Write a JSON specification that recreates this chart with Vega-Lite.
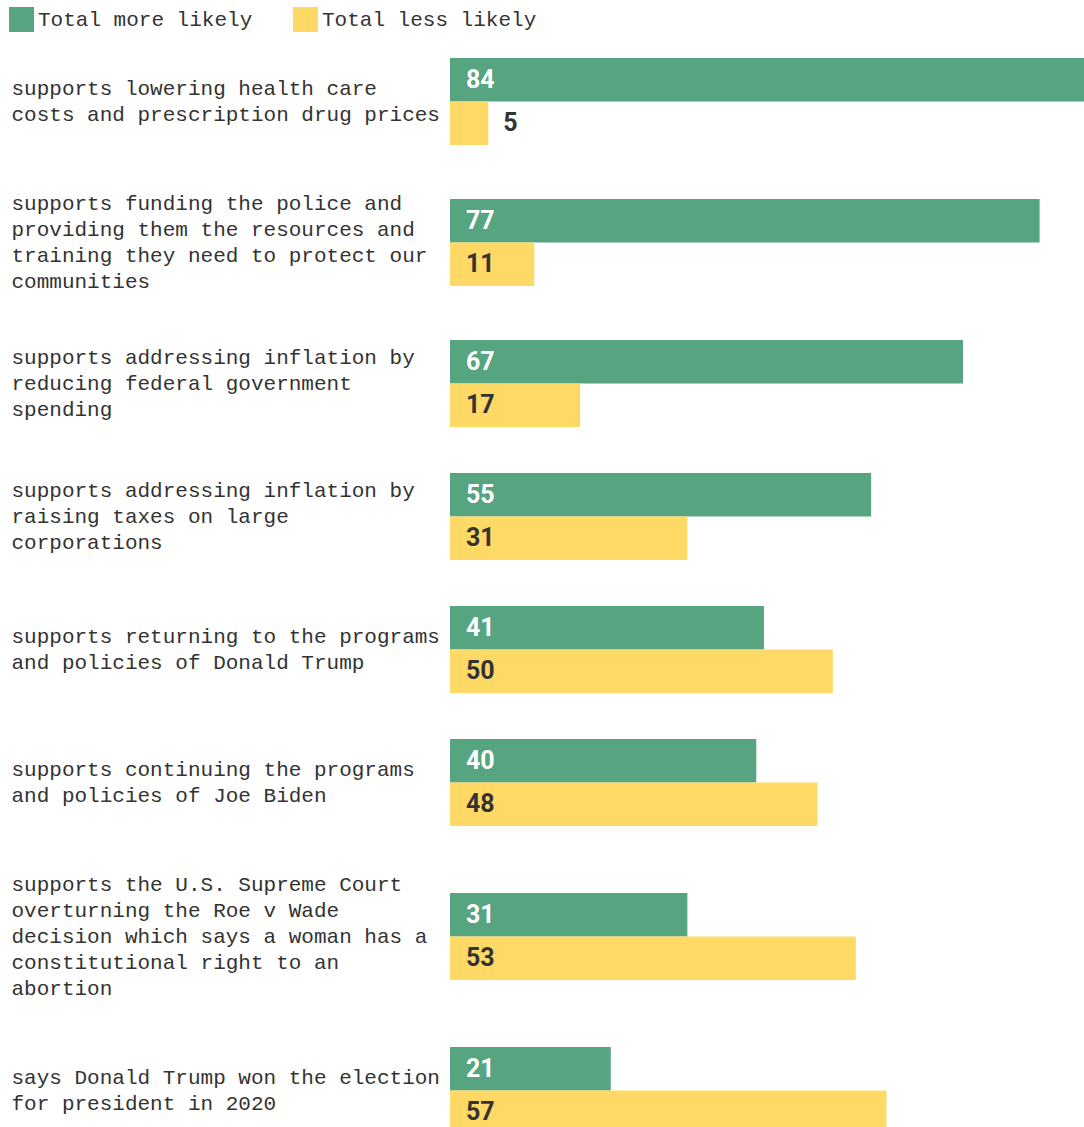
{
  "$schema": "https://vega.github.io/schema/vega-lite/v6.json",
  "padding": {"left": 9, "top": 7, "right": 0, "bottom": 0},
  "background": "white",
  "spacing": 0,
  "data": {"values": [
    {"q": 1, "question": "supports lowering health care|costs and prescription drug prices", "series": "Total more likely", "value": 84},
    {"q": 1, "question": "supports lowering health care|costs and prescription drug prices", "series": "Total less likely", "value": 5},
    {"q": 2, "question": "supports funding the police and|providing them the resources and|training they need to protect our|communities", "series": "Total more likely", "value": 77},
    {"q": 2, "question": "supports funding the police and|providing them the resources and|training they need to protect our|communities", "series": "Total less likely", "value": 11},
    {"q": 3, "question": "supports addressing inflation by|reducing federal government|spending", "series": "Total more likely", "value": 67},
    {"q": 3, "question": "supports addressing inflation by|reducing federal government|spending", "series": "Total less likely", "value": 17},
    {"q": 4, "question": "supports addressing inflation by|raising taxes on large|corporations", "series": "Total more likely", "value": 55},
    {"q": 4, "question": "supports addressing inflation by|raising taxes on large|corporations", "series": "Total less likely", "value": 31},
    {"q": 5, "question": "supports returning to the programs|and policies of Donald Trump", "series": "Total more likely", "value": 41},
    {"q": 5, "question": "supports returning to the programs|and policies of Donald Trump", "series": "Total less likely", "value": 50},
    {"q": 6, "question": "supports continuing the programs|and policies of Joe Biden", "series": "Total more likely", "value": 40},
    {"q": 6, "question": "supports continuing the programs|and policies of Joe Biden", "series": "Total less likely", "value": 48},
    {"q": 7, "question": "supports the U.S. Supreme Court|overturning the Roe v Wade|decision which says a woman has a|constitutional right to an|abortion", "series": "Total more likely", "value": 31},
    {"q": 7, "question": "supports the U.S. Supreme Court|overturning the Roe v Wade|decision which says a woman has a|constitutional right to an|abortion", "series": "Total less likely", "value": 53},
    {"q": 8, "question": "says Donald Trump won the election|for president in 2020", "series": "Total more likely", "value": 21},
    {"q": 8, "question": "says Donald Trump won the election|for president in 2020", "series": "Total less likely", "value": 57}
  ]},
  "vconcat": [
    {"height": 133, "width": 634, "transform": [{"filter": "datum.q == 1"}],
     "encoding": {
       "y": {"field": "question", "type": "nominal", "scale": {"paddingInner": 0, "paddingOuter": 0.2644}, "axis": {"title": null, "labelOffset": -13, "labelExpr": "split(datum.label, '|')"}},
       "yOffset": {"field": "series", "type": "nominal", "sort": ["Total more likely", "Total less likely"], "scale": {"paddingInner": 0, "paddingOuter": 0}}
     },
     "layer": [
       {"mark": {"type": "bar"}, "encoding": {"x": {"field": "value", "type": "quantitative", "scale": {"domain": [0, 82.8], "clamp": true, "nice": false}, "axis": null}, "color": {"field": "series", "type": "nominal", "sort": ["Total more likely", "Total less likely"], "scale": {"domain": ["Total more likely", "Total less likely"], "range": ["#56a480", "#ffd966"]}, "legend": {"title": null}}}},
       {"transform": [{"filter": "datum.value >= 10"}], "mark": {"type": "text", "align": "left", "baseline": "middle", "dx": 16, "font": "Roboto", "fontWeight": "bold", "fontSize": 25}, "encoding": {"x": {"datum": 0, "type": "quantitative"}, "text": {"field": "value", "type": "quantitative"}, "color": {"condition": {"test": "datum.series === 'Total more likely'", "value": "white"}, "value": "#333"}}},
       {"transform": [{"filter": "datum.value < 10"}], "mark": {"type": "text", "align": "left", "baseline": "middle", "dx": 15, "font": "Roboto", "fontWeight": "bold", "fontSize": 25, "color": "#333"}, "encoding": {"x": {"field": "value", "type": "quantitative"}, "text": {"field": "value", "type": "quantitative"}}}
     ]},
    {"height": 149, "width": 634, "transform": [{"filter": "datum.q == 2"}],
     "encoding": {
       "y": {"field": "question", "type": "nominal", "scale": {"paddingInner": 0, "paddingOuter": 0.3563}, "axis": {"title": null, "labelOffset": -39, "labelExpr": "split(datum.label, '|')"}},
       "yOffset": {"field": "series", "type": "nominal", "sort": ["Total more likely", "Total less likely"], "scale": {"paddingInner": 0, "paddingOuter": 0}}
     },
     "layer": [
       {"mark": {"type": "bar"}, "encoding": {"x": {"field": "value", "type": "quantitative", "scale": {"domain": [0, 82.8], "clamp": true, "nice": false}, "axis": null}, "color": {"field": "series", "type": "nominal", "sort": ["Total more likely", "Total less likely"], "legend": {"title": null}}}},
       {"transform": [{"filter": "datum.value >= 10"}], "mark": {"type": "text", "align": "left", "baseline": "middle", "dx": 16, "font": "Roboto", "fontWeight": "bold", "fontSize": 25}, "encoding": {"x": {"datum": 0, "type": "quantitative"}, "text": {"field": "value", "type": "quantitative"}, "color": {"condition": {"test": "datum.series === 'Total more likely'", "value": "white"}, "value": "#333"}}},
       {"transform": [{"filter": "datum.value < 10"}], "mark": {"type": "text", "align": "left", "baseline": "middle", "dx": 15, "font": "Roboto", "fontWeight": "bold", "fontSize": 25, "color": "#333"}, "encoding": {"x": {"field": "value", "type": "quantitative"}, "text": {"field": "value", "type": "quantitative"}}}
     ]},
    {"height": 133, "width": 634, "transform": [{"filter": "datum.q == 3"}],
     "encoding": {
       "y": {"field": "question", "type": "nominal", "scale": {"paddingInner": 0, "paddingOuter": 0.2644}, "axis": {"title": null, "labelOffset": -26, "labelExpr": "split(datum.label, '|')"}},
       "yOffset": {"field": "series", "type": "nominal", "sort": ["Total more likely", "Total less likely"], "scale": {"paddingInner": 0, "paddingOuter": 0}}
     },
     "layer": [
       {"mark": {"type": "bar"}, "encoding": {"x": {"field": "value", "type": "quantitative", "scale": {"domain": [0, 82.8], "clamp": true, "nice": false}, "axis": null}, "color": {"field": "series", "type": "nominal", "sort": ["Total more likely", "Total less likely"], "legend": {"title": null}}}},
       {"transform": [{"filter": "datum.value >= 10"}], "mark": {"type": "text", "align": "left", "baseline": "middle", "dx": 16, "font": "Roboto", "fontWeight": "bold", "fontSize": 25}, "encoding": {"x": {"datum": 0, "type": "quantitative"}, "text": {"field": "value", "type": "quantitative"}, "color": {"condition": {"test": "datum.series === 'Total more likely'", "value": "white"}, "value": "#333"}}},
       {"transform": [{"filter": "datum.value < 10"}], "mark": {"type": "text", "align": "left", "baseline": "middle", "dx": 15, "font": "Roboto", "fontWeight": "bold", "fontSize": 25, "color": "#333"}, "encoding": {"x": {"field": "value", "type": "quantitative"}, "text": {"field": "value", "type": "quantitative"}}}
     ]},
    {"height": 133, "width": 634, "transform": [{"filter": "datum.q == 4"}],
     "encoding": {
       "y": {"field": "question", "type": "nominal", "scale": {"paddingInner": 0, "paddingOuter": 0.2644}, "axis": {"title": null, "labelOffset": -26, "labelExpr": "split(datum.label, '|')"}},
       "yOffset": {"field": "series", "type": "nominal", "sort": ["Total more likely", "Total less likely"], "scale": {"paddingInner": 0, "paddingOuter": 0}}
     },
     "layer": [
       {"mark": {"type": "bar"}, "encoding": {"x": {"field": "value", "type": "quantitative", "scale": {"domain": [0, 82.8], "clamp": true, "nice": false}, "axis": null}, "color": {"field": "series", "type": "nominal", "sort": ["Total more likely", "Total less likely"], "legend": {"title": null}}}},
       {"transform": [{"filter": "datum.value >= 10"}], "mark": {"type": "text", "align": "left", "baseline": "middle", "dx": 16, "font": "Roboto", "fontWeight": "bold", "fontSize": 25}, "encoding": {"x": {"datum": 0, "type": "quantitative"}, "text": {"field": "value", "type": "quantitative"}, "color": {"condition": {"test": "datum.series === 'Total more likely'", "value": "white"}, "value": "#333"}}},
       {"transform": [{"filter": "datum.value < 10"}], "mark": {"type": "text", "align": "left", "baseline": "middle", "dx": 15, "font": "Roboto", "fontWeight": "bold", "fontSize": 25, "color": "#333"}, "encoding": {"x": {"field": "value", "type": "quantitative"}, "text": {"field": "value", "type": "quantitative"}}}
     ]},
    {"height": 133, "width": 634, "transform": [{"filter": "datum.q == 5"}],
     "encoding": {
       "y": {"field": "question", "type": "nominal", "scale": {"paddingInner": 0, "paddingOuter": 0.2644}, "axis": {"title": null, "labelOffset": -13, "labelExpr": "split(datum.label, '|')"}},
       "yOffset": {"field": "series", "type": "nominal", "sort": ["Total more likely", "Total less likely"], "scale": {"paddingInner": 0, "paddingOuter": 0}}
     },
     "layer": [
       {"mark": {"type": "bar"}, "encoding": {"x": {"field": "value", "type": "quantitative", "scale": {"domain": [0, 82.8], "clamp": true, "nice": false}, "axis": null}, "color": {"field": "series", "type": "nominal", "sort": ["Total more likely", "Total less likely"], "legend": {"title": null}}}},
       {"transform": [{"filter": "datum.value >= 10"}], "mark": {"type": "text", "align": "left", "baseline": "middle", "dx": 16, "font": "Roboto", "fontWeight": "bold", "fontSize": 25}, "encoding": {"x": {"datum": 0, "type": "quantitative"}, "text": {"field": "value", "type": "quantitative"}, "color": {"condition": {"test": "datum.series === 'Total more likely'", "value": "white"}, "value": "#333"}}},
       {"transform": [{"filter": "datum.value < 10"}], "mark": {"type": "text", "align": "left", "baseline": "middle", "dx": 15, "font": "Roboto", "fontWeight": "bold", "fontSize": 25, "color": "#333"}, "encoding": {"x": {"field": "value", "type": "quantitative"}, "text": {"field": "value", "type": "quantitative"}}}
     ]},
    {"height": 133, "width": 634, "transform": [{"filter": "datum.q == 6"}],
     "encoding": {
       "y": {"field": "question", "type": "nominal", "scale": {"paddingInner": 0, "paddingOuter": 0.2644}, "axis": {"title": null, "labelOffset": -13, "labelExpr": "split(datum.label, '|')"}},
       "yOffset": {"field": "series", "type": "nominal", "sort": ["Total more likely", "Total less likely"], "scale": {"paddingInner": 0, "paddingOuter": 0}}
     },
     "layer": [
       {"mark": {"type": "bar"}, "encoding": {"x": {"field": "value", "type": "quantitative", "scale": {"domain": [0, 82.8], "clamp": true, "nice": false}, "axis": null}, "color": {"field": "series", "type": "nominal", "sort": ["Total more likely", "Total less likely"], "legend": {"title": null}}}},
       {"transform": [{"filter": "datum.value >= 10"}], "mark": {"type": "text", "align": "left", "baseline": "middle", "dx": 16, "font": "Roboto", "fontWeight": "bold", "fontSize": 25}, "encoding": {"x": {"datum": 0, "type": "quantitative"}, "text": {"field": "value", "type": "quantitative"}, "color": {"condition": {"test": "datum.series === 'Total more likely'", "value": "white"}, "value": "#333"}}},
       {"transform": [{"filter": "datum.value < 10"}], "mark": {"type": "text", "align": "left", "baseline": "middle", "dx": 15, "font": "Roboto", "fontWeight": "bold", "fontSize": 25, "color": "#333"}, "encoding": {"x": {"field": "value", "type": "quantitative"}, "text": {"field": "value", "type": "quantitative"}}}
     ]},
    {"height": 175, "width": 634, "transform": [{"filter": "datum.q == 7"}],
     "encoding": {
       "y": {"field": "question", "type": "nominal", "scale": {"paddingInner": 0, "paddingOuter": 0.5057}, "axis": {"title": null, "labelOffset": -52, "labelExpr": "split(datum.label, '|')"}},
       "yOffset": {"field": "series", "type": "nominal", "sort": ["Total more likely", "Total less likely"], "scale": {"paddingInner": 0, "paddingOuter": 0}}
     },
     "layer": [
       {"mark": {"type": "bar"}, "encoding": {"x": {"field": "value", "type": "quantitative", "scale": {"domain": [0, 82.8], "clamp": true, "nice": false}, "axis": null}, "color": {"field": "series", "type": "nominal", "sort": ["Total more likely", "Total less likely"], "legend": {"title": null}}}},
       {"transform": [{"filter": "datum.value >= 10"}], "mark": {"type": "text", "align": "left", "baseline": "middle", "dx": 16, "font": "Roboto", "fontWeight": "bold", "fontSize": 25}, "encoding": {"x": {"datum": 0, "type": "quantitative"}, "text": {"field": "value", "type": "quantitative"}, "color": {"condition": {"test": "datum.series === 'Total more likely'", "value": "white"}, "value": "#333"}}},
       {"transform": [{"filter": "datum.value < 10"}], "mark": {"type": "text", "align": "left", "baseline": "middle", "dx": 15, "font": "Roboto", "fontWeight": "bold", "fontSize": 25, "color": "#333"}, "encoding": {"x": {"field": "value", "type": "quantitative"}, "text": {"field": "value", "type": "quantitative"}}}
     ]},
    {"height": 133, "width": 634, "transform": [{"filter": "datum.q == 8"}],
     "encoding": {
       "y": {"field": "question", "type": "nominal", "scale": {"paddingInner": 0, "paddingOuter": 0.2644}, "axis": {"title": null, "labelOffset": -13, "labelExpr": "split(datum.label, '|')"}},
       "yOffset": {"field": "series", "type": "nominal", "sort": ["Total more likely", "Total less likely"], "scale": {"paddingInner": 0, "paddingOuter": 0}}
     },
     "layer": [
       {"mark": {"type": "bar"}, "encoding": {"x": {"field": "value", "type": "quantitative", "scale": {"domain": [0, 82.8], "clamp": true, "nice": false}, "axis": null}, "color": {"field": "series", "type": "nominal", "sort": ["Total more likely", "Total less likely"], "legend": {"title": null}}}},
       {"transform": [{"filter": "datum.value >= 10"}], "mark": {"type": "text", "align": "left", "baseline": "middle", "dx": 16, "font": "Roboto", "fontWeight": "bold", "fontSize": 25}, "encoding": {"x": {"datum": 0, "type": "quantitative"}, "text": {"field": "value", "type": "quantitative"}, "color": {"condition": {"test": "datum.series === 'Total more likely'", "value": "white"}, "value": "#333"}}},
       {"transform": [{"filter": "datum.value < 10"}], "mark": {"type": "text", "align": "left", "baseline": "middle", "dx": 15, "font": "Roboto", "fontWeight": "bold", "fontSize": 25, "color": "#333"}, "encoding": {"x": {"field": "value", "type": "quantitative"}, "text": {"field": "value", "type": "quantitative"}}}
     ]}
  ],
  "resolve": {"scale": {"y": "independent", "yOffset": "independent"}},
  "config": {
    "view": {"stroke": null},
    "axisY": {"labelAlign": "left", "labelPadding": 439, "ticks": false, "tickSize": 0, "domain": false, "grid": false, "labelFont": "Liberation Mono", "labelFontSize": 21, "labelColor": "#333", "labelLineHeight": 26, "labelLimit": 440, "labelBaseline": "middle"},
    "legend": {"orient": "none", "legendX": -441, "legendY": -28, "direction": "horizontal", "symbolType": "square", "symbolSize": 625, "symbolStrokeWidth": 0, "symbolOpacity": 1, "labelFont": "Liberation Mono", "labelFontSize": 21, "labelColor": "#333", "labelOffset": 4, "labelLimit": 400, "columnPadding": 40, "padding": 0}
  }
}
